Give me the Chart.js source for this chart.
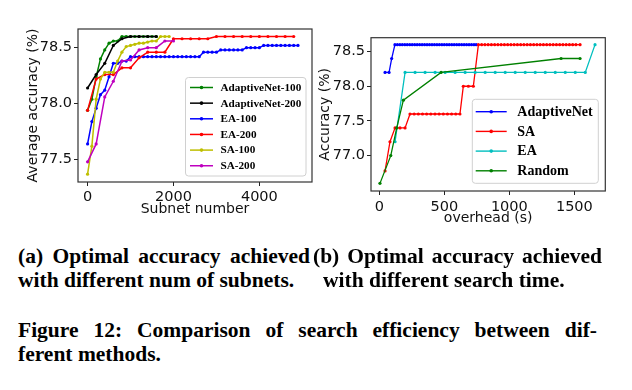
<!DOCTYPE html>
<html><head><meta charset="utf-8">
<script src="https://cdn.jsdelivr.net/npm/chart.js@4/dist/chart.umd.min.js"></script>
<style>
html,body{margin:0;padding:0;background:#fff;}
body{width:632px;height:390px;position:relative;overflow:hidden;}
canvas{position:absolute;}
.cap{position:absolute;font-family:"Liberation Serif","Times New Roman",serif;font-weight:bold;font-size:21.5px;line-height:24px;color:#000;white-space:nowrap;}
.just{text-align:justify;text-align-last:justify;white-space:normal;}
</style></head><body>
<canvas id="c1" width="320" height="222" style="left:0;top:0;"></canvas>
<canvas id="c2" width="332" height="230" style="left:300px;top:0;"></canvas>
<div class="cap just" style="left:18px;top:244px;width:292px;">(a) Optimal accuracy achieved</div>
<div class="cap" style="left:18px;top:268px;">with different num of subnets.</div>
<div class="cap just" style="left:313px;top:244px;width:289px;">(b) Optimal accuracy achieved</div>
<div class="cap" style="left:323px;top:268px;">with different search time.</div>
<div class="cap just" style="left:18px;top:318px;width:579px;">Figure 12: Comparison of search efficiency between dif-</div>
<div class="cap" style="left:18px;top:342px;">ferent methods.</div>
<script>
// ---------- Left chart data ----------
const subnetAN100 = [0,100,200,300,400,500,600,700,800,900,1000,1100,1200,1300,1400,1500,1600];
const accAN100 = [77.94,78.04,78.24,78.40,78.48,78.54,78.56,78.56,78.60,78.60,78.60,78.60,78.60,78.60,78.60,78.60,78.60];
const subnetAN200 = [0,200,400,600,800,1000,1200,1400,1600];
const accAN200 = [78.14,78.26,78.36,78.52,78.58,78.60,78.60,78.60,78.60];
const subnetEA100 = [0,100,200,300,400,500,600,700,800,900,1000,1100,1200,1300,1400,1500,1600,1700,1800,1900,2000,2100,2200,2300,2400,2500,2600,2700,2800,2900,3000,3100,3200,3300,3400,3500,3600,3700,3800,3900,4000,4100,4200,4300,4400,4500,4600,4700,4800,4900];
const accEA100 = [77.64,77.84,77.96,78.08,78.12,78.24,78.36,78.36,78.38,78.38,
  78.42,78.42,78.42,78.42,78.42,78.42,78.42,78.42,78.42,78.42,78.42,78.42,78.42,78.42,78.42,78.42,78.42,
  78.46,78.46,78.46,78.46,
  78.48,78.48,78.48,78.48,78.48,78.48,
  78.50,78.50,78.50,78.50,
  78.52,78.52,78.52,78.52,78.52,78.52,78.52,78.52,78.52];
const subnetEA200 = [0,200,400,600,800,1000,1200,1400,1600,1800,2000,2200,2400,2600,2800,3000,3200,3400,3600,3800,4000,4200,4400,4600,4800];
const accEA200 = [77.94,78.22,78.26,78.26,78.32,78.32,78.41,78.46,78.46,78.46,78.58,78.58,78.58,78.58,78.58,78.60,78.60,78.60,78.60,78.60,78.60,78.60,78.60,78.60,78.60];
const subnetSA100 = [0,100,200,300,400,500,600,700,800,900,1000,1100,1200,1300,1400,1500,1600,1700,1800,1900];
const accSA100 = [77.37,77.62,78.04,78.22,78.28,78.28,78.28,78.38,78.46,78.51,78.52,78.53,78.54,78.54,78.55,78.56,78.56,78.60,78.60,78.60];
const subnetSA200 = [0,200,400,600,800,1000,1200,1400,1600,1800,2000];
const accSA200 = [77.48,77.64,78.06,78.20,78.38,78.39,78.48,78.50,78.50,78.56,78.56];
const leftLabels = ['AdaptiveNet-100','AdaptiveNet-200','EA-100','EA-200','SA-100','SA-200'];
const leftXTicks = [0,2000,4000];
const leftYTicks = [77.5,78.0,78.5];

// ---------- Right chart data ----------
const timeAdaptiveNet = [44,75,95,120,139,158,177,196,215,234,253,272,291,310,329,348,367,386,405,424,443,462,481,500,519,538,557,576,595,614,633,652,671,690,709,728,745];
const accAdaptiveNet = [78.2,78.2,78.4,78.6,78.6,78.6,78.6,78.6,78.6,78.6,78.6,78.6,78.6,78.6,78.6,78.6,78.6,78.6,78.6,78.6,78.6,78.6,78.6,78.6,78.6,78.6,78.6,78.6,78.6,78.6,78.6,78.6,78.6,78.6,78.6,78.6,78.6];
const timeSA = [44,82,121,159,198,236,268,300,332,364,396,428,460,492,524,556,588,620,646,685,723,762,787,812,837,862,887,912,937,962,987,1012,1037,1062,1087,1112,1137,1162,1187,1212,1237,1262,1287,1312,1337,1362,1387,1412,1437,1462,1487,1512,1544];
const accSA = [76.78,77.2,77.4,77.4,77.4,
  77.6,77.6,77.6,77.6,77.6,77.6,77.6,77.6,77.6,77.6,77.6,77.6,77.6,
  78.0,78.0,78.0,
  78.6,78.6,78.6,78.6,78.6,78.6,78.6,78.6,78.6,78.6,78.6,78.6,78.6,78.6,78.6,78.6,78.6,78.6,78.6,78.6,78.6,78.6,78.6,78.6,78.6,78.6,78.6,78.6,78.6,78.6,78.6,78.6];
const timeEA = [121,198,275,352,429,506,583,660,737,814,891,968,1045,1122,1199,1276,1353,1430,1507,1584,1659];
const accEA = [77.2,78.2,78.2,78.2,78.2,78.2,78.2,78.2,78.2,78.2,78.2,78.2,78.2,78.2,78.2,78.2,78.2,78.2,78.2,78.2,78.6];
const timeRandom = [5,88,134,185,475,1398,1544];
const accRandom = [76.6,77.0,77.4,77.8,78.2,78.4,78.4];
const rightLabels = ['AdaptiveNet','SA','EA','Random'];
const rightXTicks = [0,500,1000,1500];
const rightYTicks = [77.0,77.5,78.0,78.5];

// ---------- helpers ----------
const pts = (xs, ys) => xs.map((x, i) => ({x: x, y: ys[i]}));
const TICK_FONT = {family: 'DejaVu Sans', size: 14.5};
const TITLE_FONT = {family: 'DejaVu Sans', size: 14};

function ds(label, xs, ys, color, n, i, lw) {
  return {label, data: pts(xs, ys), borderColor: color, backgroundColor: color,
    borderWidth: lw, pointRadius: 1.6, pointHoverRadius: 1.6, pointBorderWidth: 0,
    pointStyle: 'circle', tension: 0, fill: false, order: n - i};
}

const framePlugin = {
  id: 'frame',
  afterDatasetsDraw(chart) {
    const a = chart.chartArea, ctx = chart.ctx;
    ctx.save(); ctx.strokeStyle = '#333'; ctx.lineWidth = 1.2;
    ctx.strokeRect(a.left, a.top, a.right - a.left, a.bottom - a.top);
    ctx.restore();
  }
};

const legendPlugin = {
  id: 'boxLegend',
  afterDraw(chart, args, o) {
    const ctx = chart.ctx;
    ctx.save();
    ctx.beginPath();
    ctx.roundRect(o.x0, o.y0, o.x1 - o.x0, o.y1 - o.y0, 3);
    ctx.fillStyle = 'rgba(255,255,255,0.85)'; ctx.fill();
    ctx.strokeStyle = '#d0d0d0'; ctx.lineWidth = 1; ctx.stroke();
    chart.data.datasets.forEach((d, i) => {
      const y = o.rowY0 + i * o.rowStep;
      ctx.strokeStyle = d.borderColor; ctx.lineWidth = o.lw;
      ctx.beginPath(); ctx.moveTo(o.lx0, y); ctx.lineTo(o.lx1, y); ctx.stroke();
      ctx.fillStyle = d.borderColor;
      ctx.beginPath(); ctx.arc((o.lx0 + o.lx1) / 2, y, 1.8, 0, Math.PI * 2); ctx.fill();
      ctx.fillStyle = '#000';
      ctx.font = 'bold ' + o.fontSize + 'px "Liberation Serif", serif';
      ctx.textBaseline = 'middle'; ctx.textAlign = 'left';
      ctx.fillText(d.label, o.tx, y + 0.5);
    });
    ctx.restore();
  }
};

function axes(xmin, xmax, xticks, xtitle, ymin, ymax, yticks, ytitle, yw, xh, ytp, xtp, xpad) {
  return {
    x: {type: 'linear', min: xmin, max: xmax,
      afterBuildTicks: s => { s.ticks = xticks.map(v => ({value: v})); },
      afterFit: s => { s.height = xh; },
      grid: {drawOnChartArea: false, drawTicks: true, tickLength: 4, color: '#222', tickWidth: 1},
      border: {display: false},
      ticks: {color: '#111', font: TICK_FONT, padding: xpad, maxRotation: 0, callback: v => String(v)},
      title: {display: true, text: xtitle, color: '#111', font: TITLE_FONT, padding: {top: 0, bottom: xtp}}},
    y: {type: 'linear', min: ymin, max: ymax,
      afterBuildTicks: s => { s.ticks = yticks.map(v => ({value: v})); },
      afterFit: s => { s.width = yw; },
      grid: {drawOnChartArea: false, drawTicks: true, tickLength: 4, color: '#222', tickWidth: 1},
      border: {display: false},
      ticks: {color: '#111', font: TICK_FONT, padding: 2, callback: v => Number(v).toFixed(1)},
      title: {display: true, text: ytitle, color: '#111', font: TITLE_FONT, padding: {top: ytp, bottom: 0}}}
  };
}

const common = {responsive: false, animation: false, events: [],
  plugins: {legend: {display: false}, tooltip: {enabled: false}}};

// ---------- Left chart ----------
const leftColors = ['#008000', '#000000', '#0000ff', '#ff0000', '#bfbf00', '#bf00bf'];
const leftX = [subnetAN100, subnetAN200, subnetEA100, subnetEA200, subnetSA100, subnetSA200];
const leftY = [accAN100, accAN200, accEA100, accEA200, accSA100, accSA200];
new Chart(document.getElementById('c1'), {
  type: 'line',
  data: {datasets: leftLabels.map((l, i) => ds(l, leftX[i], leftY[i], leftColors[i], 6, i, 1.5))},
  options: Object.assign({}, common, {
    layout: {padding: {left: 0, top: 29, right: 8, bottom: 0}},
    scales: axes(-223, 5226, leftXTicks, 'Subnet number', 77.30, 78.667, leftYTicks, 'Average accuracy (%)', 78, 40, 25, 4, 3),
    plugins: {legend: {display: false}, tooltip: {enabled: false},
      boxLegend: {x0: 185.5, y0: 77.5, x1: 306, y1: 176, rowY0: 87.5, rowStep: 15.65, lx0: 190, lx1: 213, tx: 220.5, fontSize: 11.2, lw: 1.5}}
  }),
  plugins: [framePlugin, legendPlugin]
});

// ---------- Right chart ----------
const rightColors = ['#0000ff', '#ff0000', '#00bfbf', '#008000'];
const rightX = [timeAdaptiveNet, timeSA, timeEA, timeRandom];
const rightY = [accAdaptiveNet, accSA, accEA, accRandom];
new Chart(document.getElementById('c2'), {
  type: 'line',
  data: {datasets: rightLabels.map((l, i) => ds(l, rightX[i], rightY[i], rightColors[i], 4, i, 1.3))},
  options: Object.assign({}, common, {
    layout: {padding: {left: 0, top: 37.7, right: 26.7, bottom: 0}},
    scales: axes(-64, 1738, rightXTicks, 'overhead (s)', 76.49, 78.70, rightYTicks, 'Accuracy (%)', 71, 39, 17, 3.5, 3.5),
    plugins: {legend: {display: false}, tooltip: {enabled: false},
      boxLegend: {x0: 172.3, y0: 99.3, x1: 298.3, y1: 183.3, rowY0: 111.7, rowStep: 19.7, lx0: 175.7, lx1: 206.7, tx: 217.3, fontSize: 14, lw: 1.4}}
  }),
  plugins: [framePlugin, legendPlugin]
});
</script>
</body></html>
